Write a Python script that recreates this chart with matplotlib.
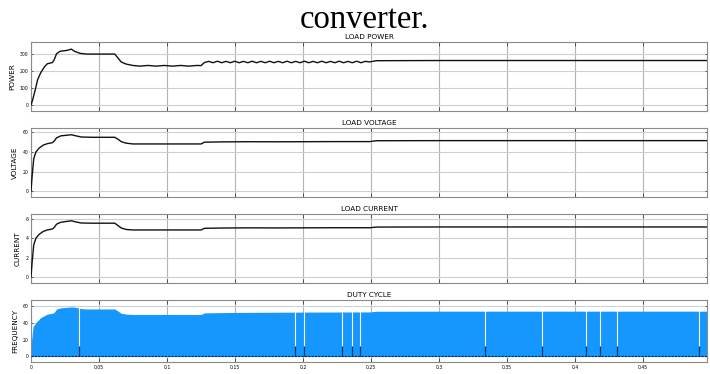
import matplotlib
matplotlib.use("Agg")
import matplotlib.pyplot as plt
import numpy as np

# ---------------- data ----------------
# LOAD POWER
p_t = [0, 0.0012, 0.0036, 0.0048, 0.0072, 0.0097, 0.012, 0.0157, 0.017, 0.0188, 0.0213,
       0.0266, 0.0297, 0.032, 0.0362, 0.041, 0.050, 0.0616, 0.064, 0.0664, 0.070, 0.0749,
       0.080, 0.086, 0.092, 0.098, 0.104, 0.110, 0.116, 0.122, 0.125, 0.1275,
       0.1306, 0.1338, 0.1370, 0.1402, 0.1434, 0.1466, 0.1498, 0.1530, 0.1562, 0.1594,
       0.1626, 0.1658, 0.1690, 0.1722, 0.1754, 0.1786, 0.1818, 0.1850, 0.1882, 0.1914,
       0.1946, 0.1978, 0.2010, 0.2042, 0.2074, 0.2106, 0.2138, 0.2170, 0.2202, 0.2234,
       0.2266, 0.2298, 0.2330, 0.2362, 0.2394, 0.2426, 0.2458, 0.2490, 0.2540,
       0.30, 0.35, 0.40, 0.45, 0.497]
p_v = [0, 30, 105, 148, 191, 223, 243, 250, 266, 302, 316,
       322, 329, 316, 304, 300, 300, 300, 276, 253, 241, 233,
       229, 233, 229, 233, 229, 233, 229, 233, 232, 250,
       257, 249, 258, 249, 257, 249, 258, 249, 257, 249,
       258, 249, 257, 249, 258, 249, 257, 249, 258, 249,
       257, 249, 258, 249, 257, 249, 258, 249, 257, 249,
       258, 249, 257, 249, 258, 249, 257, 254, 261,
       262, 262, 262, 262, 262]

# LOAD VOLTAGE
v_t = [0, 0.0008, 0.002, 0.0036, 0.006, 0.009, 0.012, 0.0157, 0.017, 0.0188, 0.022,
       0.0297, 0.033, 0.037, 0.045, 0.0616, 0.064, 0.0664, 0.070, 0.075,
       0.090, 0.110, 0.125, 0.1275, 0.140, 0.160, 0.180, 0.200, 0.220, 0.249, 0.254,
       0.30, 0.35, 0.40, 0.45, 0.497]
v_v = [0, 15, 33, 40, 44, 47, 48.5, 49.5, 51, 54.5, 56.5,
       57.6, 56.5, 55.3, 55, 55, 53, 50.5, 49, 48.2,
       48.2, 48.2, 48.2, 50, 50.3, 50.5, 50.4, 50.5, 50.6, 50.6, 51.5,
       51.6, 51.6, 51.6, 51.6, 51.6]

# LOAD CURRENT
i_t = v_t
i_v = [0, 1.5, 3.3, 4.0, 4.4, 4.7, 4.85, 4.95, 5.1, 5.45, 5.65,
       5.8, 5.68, 5.57, 5.55, 5.55, 5.3, 5.05, 4.9, 4.85,
       4.85, 4.85, 4.85, 5.02, 5.05, 5.07, 5.06, 5.07, 5.08, 5.08, 5.15,
       5.16, 5.16, 5.16, 5.16, 5.16]

# DUTY CYCLE (FREQUENCY)
d_t = [0, 0.0005, 0.0015, 0.0036, 0.0072, 0.012, 0.0157, 0.017, 0.0188, 0.022,
       0.030, 0.033, 0.0353, 0.040, 0.0616, 0.064, 0.0664, 0.070, 0.075,
       0.125, 0.1275, 0.150, 0.200, 0.249, 0.254, 0.30, 0.40, 0.497]
d_v = [0, 20, 35, 40, 46, 50, 51, 52, 56, 57.5,
       58.5, 58, 57, 56.1, 56.1, 53.5, 51, 50, 49.6,
       49.6, 51.5, 52, 52.4, 52.6, 53.4, 53.5, 53.5, 53.5]
gap_t = [0.0353, 0.194, 0.201, 0.229, 0.236, 0.242, 0.334, 0.3755, 0.408, 0.418, 0.431, 0.491]

x_ticks = [0, 0.05, 0.1, 0.15, 0.2, 0.25, 0.3, 0.35, 0.4, 0.45]
x_ticklabels = ["0", "0.05", "0.1", "0.15", "0.2", "0.25", "0.3", "0.35", "0.4", "0.45"]

panels = [
    ("LOAD POWER", "POWER", [0, 100, 200, 300], (-35, 371)),
    ("LOAD VOLTAGE", "VOLTAGE", [0, 20, 40, 60], (-6, 64.5)),
    ("LOAD CURRENT", "CURRENT", [0, 2, 4, 6], (-0.63, 6.5)),
    ("DUTY CYCLE", "FREQUENCY", [0, 20, 40, 60], (-6.6, 66.7)),
]

# ---------------- figure ----------------
fig = plt.figure(figsize=(7.10, 3.74), dpi=100)
W, H = 710, 374
boxes = [(42, 111), (128, 197), (214, 283), (300, 362)]
left, right = 31, 707

fig.text(0.514, 1 - 28 / H, "converter.", family="Liberation Serif", fontsize=23.5,
         ha="center", va="baseline")

series = [(p_t, p_v), (v_t, v_v), (i_t, i_v), None]
blue = "#1597fd"

for k, ((title, ylabel, yt, ylim), (top, bot)) in enumerate(zip(panels, boxes)):
    ax = fig.add_axes([left / W, 1 - bot / H, (right - left) / W, (bot - top) / H])
    ax.set_xlim(0, 0.497)
    ax.set_ylim(*ylim)
    ax.set_xticks(x_ticks)
    ax.set_yticks(yt)
    ax.grid(True, axis="x", color="#b4b4b4", lw=0.8)
    ax.grid(True, axis="y", color="#cfcfcf", lw=0.8)
    ax.set_axisbelow(True)
    if k < 3:
        t, v = series[k]
        ax.plot(t, v, color="#111111", lw=1.0, zorder=3)
        ax.set_xticklabels([])
    else:
        ax.fill_between(d_t, 0, d_v, color=blue, lw=0, zorder=2)
        ax.vlines(gap_t, 12, 60, color="white", lw=0.8, zorder=3)
        ax.vlines(gap_t, 0, 12, color="#0b3c6e", lw=0.9, zorder=3)
        ax.plot([0, 0.497], [1, 1], color="#10243c", lw=0.8, ls=(0, (2, 1)), zorder=3)
        ax.set_xticklabels(x_ticklabels)
    ax.set_title(title, fontsize=5.2, pad=2)
    ax.set_ylabel(ylabel, fontsize=5.2, labelpad=3)
    ax.tick_params(axis="both", labelsize=3.3, direction="in", length=3, width=0.6,
                   color="#404040", pad=2)
    ax.tick_params(axis="x", top=True)
    ax.tick_params(axis="y", right=True, length=1.5)
    for s in ax.spines.values():
        s.set_color("#8a8a8a")
        s.set_linewidth(0.8)

fig.savefig("out.png", dpi=100)
